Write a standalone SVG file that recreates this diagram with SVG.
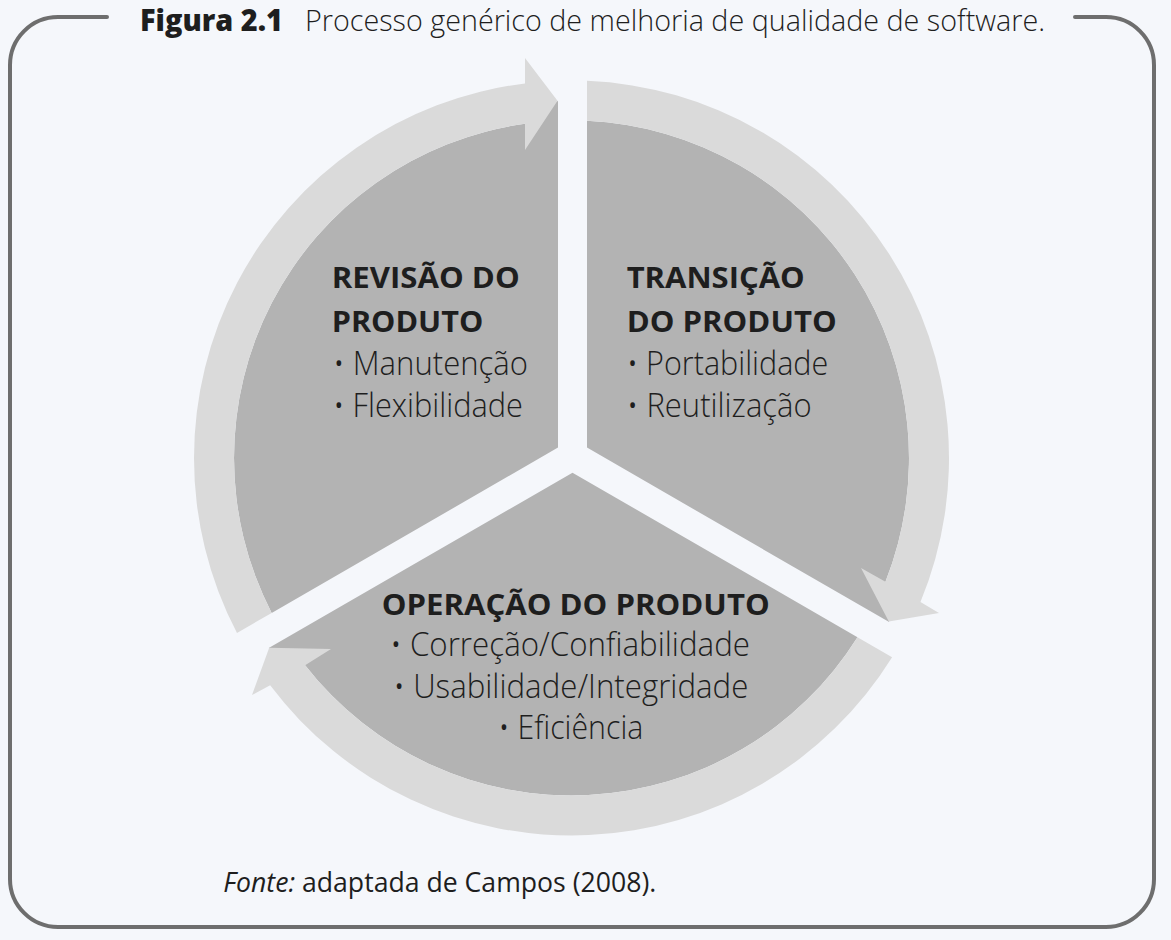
<svg xmlns="http://www.w3.org/2000/svg" width="1171" height="940" viewBox="0 0 1171 940">
<style>
.ring{fill:#dadada}
.sector{fill:#b3b3b3}
.hd{font-family:"Open Sans","Noto Sans","DejaVu Sans",sans-serif;font-weight:700;font-size:29px;fill:#1e1e1e}
.bd{font-family:"Open Sans","Noto Sans","DejaVu Sans",sans-serif;font-weight:300;font-size:33px;fill:#1e1e1e}
.frame{fill:none;stroke:#6e6e6e;stroke-width:4;stroke-linecap:round}
</style>
<rect x="0" y="0" width="1171" height="940" fill="#f5f7fb"/>
<g id="frame">
<path class="frame" d="M107,17 L58,17 A48,48 0 0 0 10,65 L10,879 A48,48 0 0 0 58,927 L1106,927 A48,48 0 0 0 1154,879 L1154,65 A48,48 0 0 0 1106,17 L1075,17"/>
</g>
<g id="title">
<text x="140" y="31" font-family="'Open Sans','Noto Sans','DejaVu Sans',sans-serif" font-weight="800" font-size="30" fill="#1e1e1e" textLength="143" lengthAdjust="spacingAndGlyphs">Figura 2.1</text>
<text x="305" y="31" font-family="'Open Sans','Noto Sans','DejaVu Sans',sans-serif" font-weight="300" font-size="30" fill="#1e1e1e" textLength="740" lengthAdjust="spacingAndGlyphs">Processo genérico de melhoria de qualidade de software.</text>
</g>
<g id="revisao">
<path class="sector" d="M558,447.6 L558,100.8 L525,123.72 A337.5,337.5 0 0 0 271.67,612.92 Z"/>
<path class="ring" d="M236.99,632.94 A377.5,377.5 0 0 1 525,83.38 L525,58 L557.5,100.8 L525,150 L525,123.72 A337.5,337.5 0 0 0 271.67,612.92 Z"/>
<text class="hd" x="331.7" y="288" textLength="188" lengthAdjust="spacingAndGlyphs">REVISÃO DO</text>
<text class="hd" x="331.7" y="331.7" textLength="151.6" lengthAdjust="spacingAndGlyphs">PRODUTO</text>
<text class="bd" x="333" y="375" textLength="195" lengthAdjust="spacingAndGlyphs">• Manutenção</text>
<text class="bd" x="333" y="417" textLength="190" lengthAdjust="spacingAndGlyphs">• Flexibilidade</text>
</g>
<g id="transicao">
<path class="sector" d="M587,447.6 L587,120.86 A337.5,337.5 0 0 1 885.46,581.82 L889.13,622.04 Z"/>
<path class="ring" d="M587,80.82 A377.5,377.5 0 0 1 920.45,602.02 L939,613 L888.8,621.6 L861,568 L885.46,581.82 A337.5,337.5 0 0 0 587,120.86 Z"/>
<text class="hd" x="626.7" y="288" textLength="178" lengthAdjust="spacingAndGlyphs">TRANSIÇÃO</text>
<text class="hd" x="626.7" y="331.7" textLength="210" lengthAdjust="spacingAndGlyphs">DO PRODUTO</text>
<text class="bd" x="626.7" y="375" textLength="201.6" lengthAdjust="spacingAndGlyphs">• Portabilidade</text>
<text class="bd" x="626.7" y="417" textLength="185" lengthAdjust="spacingAndGlyphs">• Reutilização</text>
</g>
<g id="operacao">
<path class="sector" d="M572.5,472.7 L857.47,637.23 A337.5,337.5 0 0 1 305.09,665.2 L268.73,648.09 Z"/>
<path class="ring" d="M892.12,657.24 A377.5,377.5 0 0 1 270.16,685.37 L252,695 L269.2,647.8 L331,649 L305.09,665.2 A337.5,337.5 0 0 0 857.47,637.23 Z"/>
<text class="hd" x="381.7" y="615" textLength="388" lengthAdjust="spacingAndGlyphs">OPERAÇÃO DO PRODUTO</text>
<text class="bd" x="390" y="656" textLength="360" lengthAdjust="spacingAndGlyphs">• Correção/Confiabilidade</text>
<text class="bd" x="393.3" y="698.3" textLength="355" lengthAdjust="spacingAndGlyphs">• Usabilidade/Integridade</text>
<text class="bd" x="498.3" y="739.3" textLength="145" lengthAdjust="spacingAndGlyphs">• Eficiência</text>
</g>
<g id="connectors"></g>
<g id="caption">
<text x="223.3" y="891.7" font-family="'Open Sans','Noto Sans','DejaVu Sans',sans-serif" font-weight="400" font-size="28" fill="#1e1e1e" textLength="433" lengthAdjust="spacingAndGlyphs"><tspan font-style="italic">Fonte:</tspan> adaptada de Campos (2008).</text>
</g>
</svg>
